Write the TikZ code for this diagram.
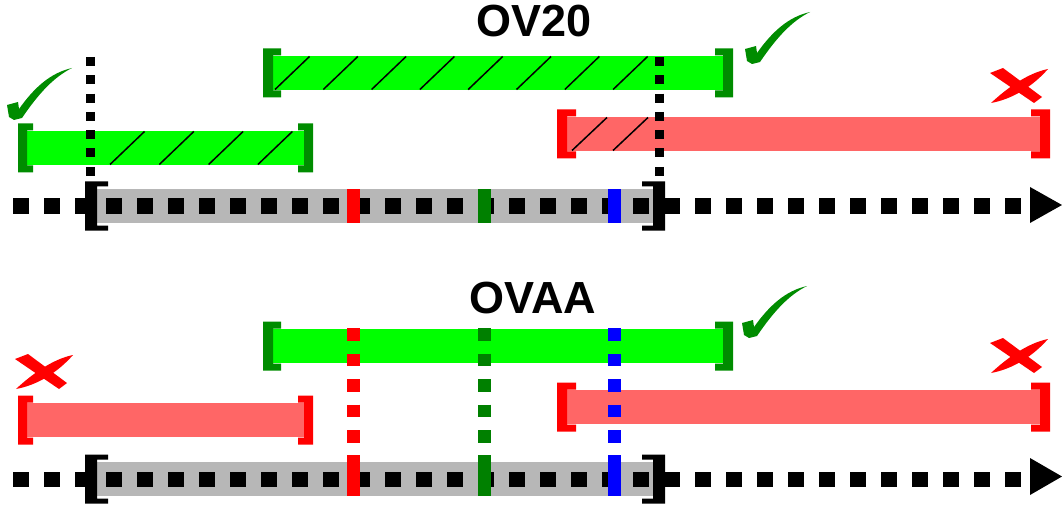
\documentclass[tikz,border=0pt]{standalone}
\usepackage{fontspec}
\setmainfont{Liberation Sans}
\definecolor{brgreen}{RGB}{0,255,0}
\definecolor{dkgreen}{RGB}{0,140,0}
\definecolor{mkgreen}{RGB}{0,128,0}
\definecolor{pinkred}{RGB}{255,102,102}
\definecolor{axgray}{RGB}{183,183,183}
\newcommand\ivl[8]{%
 \fill[#4] (#1,{#3-17}) rectangle (#2,{#3+17});
 \fill[#5] ({#1-#6},{#3-24.5}) -- ({#1+#7},{#3-24.5}) -- ({#1+#7},{#3-24.5+#8}) -- (#1,{#3-24.5+#8}) -- (#1,{#3+24.5-#8}) -- ({#1+#7},{#3+24.5-#8}) -- ({#1+#7},{#3+24.5}) -- ({#1-#6},{#3+24.5}) -- cycle;
 \fill[#5] ({#2+#6},{#3-24.5}) -- ({#2-#7},{#3-24.5}) -- ({#2-#7},{#3-24.5+#8}) -- (#2,{#3-24.5+#8}) -- (#2,{#3+24.5-#8}) -- ({#2-#7},{#3+24.5-#8}) -- ({#2-#7},{#3+24.5}) -- ({#2+#6},{#3+24.5}) -- cycle;
}
\tikzset{
 title/.style={font=\fontsize{45}{45}\selectfont\bfseries, inner sep=0pt, anchor=base},
 hatch/.style={line width=1.5pt, black},
 vdots/.style={line width=9pt, dash pattern=on 9pt off 9.3pt},
 cdots/.style={line width=13pt, dash pattern=on 12.7pt off 12.8pt},
 axdots/.style={line width=15pt, dash pattern=on 15.5pt off 15.5pt},
 checkmk/.pic={\fill[dkgreen] (-5,-15) -- (6,-18) -- (7,-11) .. controls (22,-32) and (38,-47) .. (60,-52) .. controls (42,-43) and (27,-27) .. (10,-2) -- (2,0) -- (-3,-3) -- cycle;},
 crossmk/.pic={\fill[red] (0,5) -- (13,0) -- (52,29) -- (44,35) -- cycle;
   \fill[red] (58,1) .. controls (38,5) and (17,20) .. (1,35) .. controls (23,31) and (43,18) .. cycle;}
}
\begin{document}
\begin{tikzpicture}[x=1pt,y=-1pt]
\fill[white] (0,0) rectangle (1062,505);
\useasboundingbox (0,0) rectangle (1062,505);
% ---------- top: OV20 ----------
\node[title] (t1) at (534,37) {OV20};
\ivl{273}{723}{73}{brgreen}{dkgreen}{10}{8}{7}
\ivl{27}{304}{148}{brgreen}{dkgreen}{9}{6}{7}
\ivl{567}{1040}{134}{pinkred}{red}{10}{9}{7}
\foreach \k in {0,...,7} \draw[hatch] ({275+48.3*\k},89.5) -- ++(34.5,-33);
\foreach \k in {0,...,3} \draw[hatch] ({110+49.3*\k},164.5) -- ++(34.5,-33);
\foreach \xx in {572,613} \draw[hatch] (\xx,150.5) -- ++(35,-33);
\coordinate (va1) at (90.5,57); \coordinate (va2) at (90.5,176);
\coordinate (vb1) at (659.5,57); \coordinate (vb2) at (659.5,176);
\draw[vdots] (va1) -- (va2);
\draw[vdots] (vb1) -- (vb2);
\ivl{97}{653}{206}{axgray}{black}{12}{11}{5}
\coordinate (ax1s) at (13,206); \coordinate (ax1e) at (1030,206);
\draw[axdots] (ax1s) -- (ax1e);
\fill (1030,187) -- (1062,205) -- (1030,223) -- cycle;
\fill[red] (347,189) rectangle (360,223);
\fill[mkgreen] (478,189) rectangle (491,223);
\fill[blue] (608,189) rectangle (621,223);
\pic at (750,64) {checkmk};
\pic at (12,120) {checkmk};
\pic at (990,68) {crossmk};
% ---------- bottom: OVAA ----------
\node[title] (t2) at (533,313) {OVAA};
\ivl{273}{723}{346}{brgreen}{dkgreen}{10}{8}{7}
\ivl{27}{304}{420}{pinkred}{red}{9}{6}{7}
\ivl{567}{1040}{407}{pinkred}{red}{10}{9}{7}
\coordinate (cr1) at (353.5,328); \coordinate (cr2) at (353.5,445);
\coordinate (cg1) at (484.5,328); \coordinate (cg2) at (484.5,445);
\coordinate (cb1) at (614.5,328); \coordinate (cb2) at (614.5,445);
\draw[cdots, red] (cr1) -- (cr2);
\draw[cdots, mkgreen] (cg1) -- (cg2);
\draw[cdots, blue] (cb1) -- (cb2);
\ivl{97}{653}{479}{axgray}{black}{12}{11}{5}
\coordinate (ax2s) at (13,479); \coordinate (ax2e) at (1030,479);
\draw[axdots] (ax2s) -- (ax2e);
\fill (1030,458) -- (1062,476.5) -- (1030,495) -- cycle;
\fill[red] (347,455) rectangle (360,496);
\fill[mkgreen] (478,455) rectangle (491,496);
\fill[blue] (608,455) rectangle (621,496);
\pic at (747,338) {checkmk};
\pic at (15,354) {crossmk};
\pic at (990,338) {crossmk};
\end{tikzpicture}
\end{document}
